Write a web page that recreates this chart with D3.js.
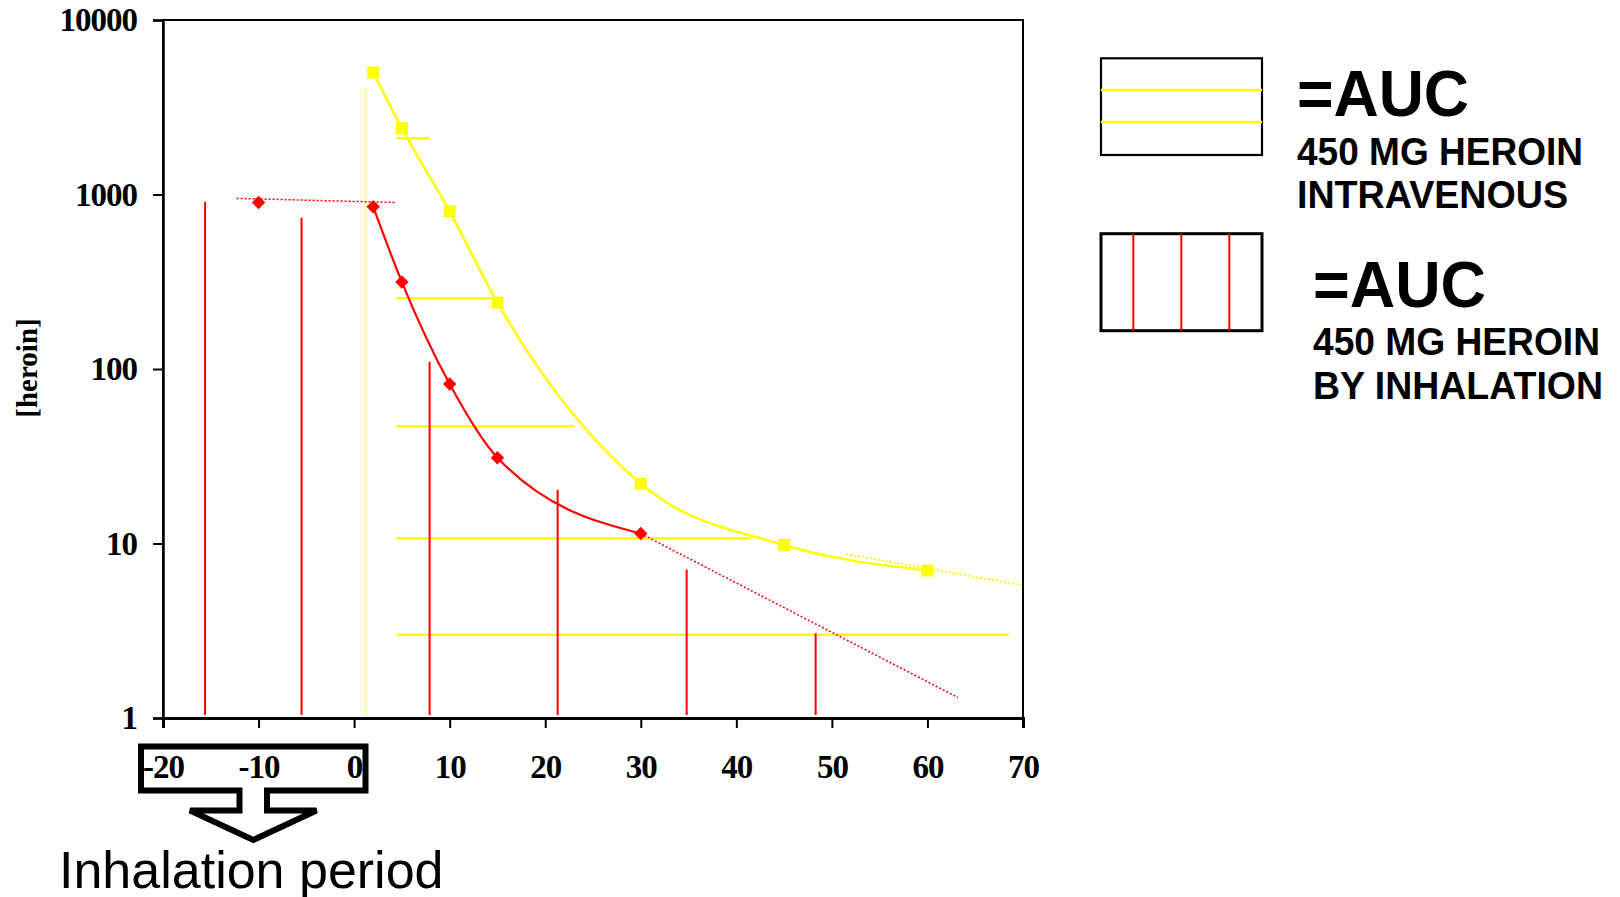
<!DOCTYPE html>
<html>
<head>
<meta charset="utf-8">
<script src="https://cdn.jsdelivr.net/npm/d3@7"></script>
<style>
  body { margin: 0; background: #fff; }
  .tick text { font-family: "Liberation Serif", "Times New Roman", serif; font-weight: bold; font-size: 33px; letter-spacing: -1px; fill: #000; }
  .legend-text { font-family: "Liberation Sans", Arial, sans-serif; font-weight: bold; fill: #000; }
</style>
</head>
<body>
<svg id="chart"></svg>
<script>
// IV heroin (yellow squares)
const ivTime = [2, 5, 10, 15, 30, 45, 60];
const ivConc = [5000, 2400, 800, 240, 22, 9.8, 7];
// inhaled heroin (red diamonds)
const inhTime = [-10, 2, 5, 10, 15, 30];
const inhConc = [900, 850, 315, 82, 31, 11.4];

// dotted extrapolations
const inhPreTime = [-12.3, 4.3];
const inhPreConc = [950, 900];
const inhTailTime = [30, 63.2];
const inhTailConc = [11.4, 1.31];
const ivTailTime = [51.5, 70];
const ivTailConc = [8.7, 5.75];
const ivStartTime = 1.2;
const ivStartConc = [4000, 1];

// AUC hatching: yellow horizontals (IV), red verticals (inhalation)
const ivAucStart = 4.45;
const ivAucLevel = [2100, 254, 47, 10.7, 3.0];
const ivAucEnd = [7.9, 14.6, 23.05, 41.5, 68.5];
const inhAucTime = [-15.6, -5.5, 7.9, 21.3, 34.8, 48.3];
const inhAucTop = [910, 736, 110, 20.3, 7.1, 3.06];
const inhAucFloor = 1.04;

// tick labels
const xTicks = [-20, -10, 0, 10, 20, 30, 40, 50, 60, 70];
const yTicks = [1, 10, 100, 1000, 10000];

const legendText = [
  ["=AUC", "450 MG HEROIN", "INTRAVENOUS"],
  ["=AUC", "450 MG HEROIN", "BY INHALATION"]
];

const W = 1620, H = 897;
const plot = {left: 163, top: 20, right: 1023, bottom: 718};
const YELLOW = "#ffff00", RED = "#ff0000";

const svg = d3.select("#chart").attr("width", W).attr("height", H);

const x = d3.scaleLinear().domain([-20, 70]).range([plot.left, plot.right]);
const y = d3.scaleLog().domain([1, 10000]).range([plot.bottom, plot.top]);

// frame
svg.append("rect")
  .attr("x", plot.left).attr("y", plot.top)
  .attr("width", plot.right - plot.left).attr("height", plot.bottom - plot.top)
  .attr("fill", "none").attr("stroke", "#000").attr("stroke-width", 2);

// AUC lines
svg.append("g").selectAll("line")
  .data(ivAucLevel)
  .enter().append("line")
  .attr("x1", x(ivAucStart))
  .attr("x2", (d, i) => x(ivAucEnd[i]))
  .attr("y1", d => y(d)).attr("y2", d => y(d))
  .attr("stroke", YELLOW).attr("stroke-width", 2.5);

svg.append("g").selectAll("line")
  .data(inhAucTime)
  .enter().append("line")
  .attr("x1", d => x(d)).attr("x2", d => x(d))
  .attr("y1", y(inhAucFloor))
  .attr("y2", (d, i) => y(inhAucTop[i]))
  .attr("stroke", RED).attr("stroke-width", 2);

// dotted helpers
const dotted = (xs, ys, color, w) => svg.append("line")
  .attr("x1", x(xs[0])).attr("y1", y(ys[0]))
  .attr("x2", x(xs[1])).attr("y2", y(ys[1]))
  .attr("stroke", color).attr("stroke-width", w)
  .attr("stroke-dasharray", "2,2");

dotted([ivStartTime, ivStartTime], ivStartConc, YELLOW, 1.5);
dotted(inhPreTime, inhPreConc, RED, 1.5);
dotted(inhTailTime, inhTailConc, RED, 1.5);
dotted(ivTailTime, ivTailConc, YELLOW, 1.8);

// smoothed curves
const curve = d3.line()
  .x(d => x(d[0])).y(d => y(d[1]))
  .curve(d3.curveMonotoneX);

svg.append("path")
  .attr("d", curve(ivTime.map((t, i) => [t, ivConc[i]])))
  .attr("fill", "none").attr("stroke", YELLOW).attr("stroke-width", 2.5);

svg.append("path")
  .attr("d", curve(inhTime.slice(1).map((t, i) => [t, inhConc[i + 1]])))
  .attr("fill", "none").attr("stroke", RED).attr("stroke-width", 2.2);

// markers
svg.append("g").selectAll("rect")
  .data(ivTime)
  .enter().append("rect")
  .attr("x", d => x(d) - 6)
  .attr("y", (d, i) => y(ivConc[i]) - 6)
  .attr("width", 12).attr("height", 12)
  .attr("fill", YELLOW);

const diamond = d3.symbol().type(d3.symbolSquare).size(90);
svg.append("g").selectAll("path")
  .data(inhTime)
  .enter().append("path")
  .attr("d", diamond)
  .attr("transform", (d, i) => `translate(${x(d)},${y(inhConc[i])}) rotate(45)`)
  .attr("fill", RED);

// axes
const fmt = d => String(d);
const yAxis = svg.append("g")
  .attr("transform", `translate(${plot.left},0)`)
  .call(d3.axisLeft(y).tickValues(yTicks).tickFormat(fmt).tickSize(10).tickPadding(16));
yAxis.select(".domain").attr("stroke-width", 2.5);
yAxis.selectAll(".tick line").attr("stroke-width", 2);

const xAxis = svg.append("g")
  .attr("transform", `translate(0,${plot.bottom})`)
  .call(d3.axisBottom(x).tickValues(xTicks).tickFormat(fmt).tickSize(10).tickPadding(27));
xAxis.select(".domain").attr("stroke-width", 3);
xAxis.selectAll(".tick line").attr("stroke-width", 2);

// y title
svg.append("text")
  .attr("transform", "translate(27,368) rotate(-90)")
  .attr("text-anchor", "middle")
  .attr("dominant-baseline", "central")
  .style("font-family", "'Liberation Serif', 'Times New Roman', serif")
  .style("font-weight", "bold")
  .style("font-size", "29px")
  .text("[heroin]");

// inhalation period callout
const c = {l: 141, r: 365.5, t: 746.5, b: 790.5, sl: 239.5, sr: 267, wy: 810.5, wl: 190, wr: 316.5, tx: 253.3, ty: 840};
svg.append("path")
  .attr("d", `M${c.l},${c.t}H${c.r}V${c.b}H${c.sr}V${c.wy}H${c.wr}L${c.tx},${c.ty}L${c.wl},${c.wy}H${c.sl}V${c.b}H${c.l}Z`)
  .attr("fill", "none").attr("stroke", "#000").attr("stroke-width", 6);

svg.append("text")
  .attr("x", 59).attr("y", 888)
  .style("font-family", "'Liberation Sans', Arial, sans-serif")
  .style("font-size", "52px")
  .text("Inhalation period");

// legend
const legBox = [{y: 58.3, h: 96.7}, {y: 233.7, h: 97}];
const legX = 1101, legW = 161;

legBox.forEach((b, i) => {
  svg.append("rect")
    .attr("x", legX).attr("y", b.y).attr("width", legW).attr("height", b.h)
    .attr("fill", "none").attr("stroke", "#000").attr("stroke-width", i === 0 ? 2.2 : 3);
});
[90, 122].forEach(yy => svg.append("line")
  .attr("x1", legX).attr("x2", legX + legW).attr("y1", yy).attr("y2", yy)
  .attr("stroke", YELLOW).attr("stroke-width", 2.5));
[1133.3, 1181.3, 1229.3].forEach(xx => svg.append("line")
  .attr("x1", xx).attr("x2", xx).attr("y1", legBox[1].y).attr("y2", legBox[1].y + legBox[1].h)
  .attr("stroke", RED).attr("stroke-width", 2));

const legPos = [
  {x: 1297, ys: [115.7, 165.3, 207.7]},
  {x: 1313, ys: [306.9, 355.4, 398.8]}
];
const lineSize = [64, 39, 39];
const lineLen = [[172, 286, 271], [173, 287, 290]];

legendText.forEach((lines, i) => {
  lines.forEach((t, j) => {
    svg.append("text")
      .attr("class", "legend-text")
      .attr("x", legPos[i].x).attr("y", legPos[i].ys[j])
      .attr("textLength", lineLen[i][j])
      .attr("lengthAdjust", "spacingAndGlyphs")
      .style("font-size", lineSize[j] + "px")
      .text(t);
  });
});
</script>
</body>
</html>
